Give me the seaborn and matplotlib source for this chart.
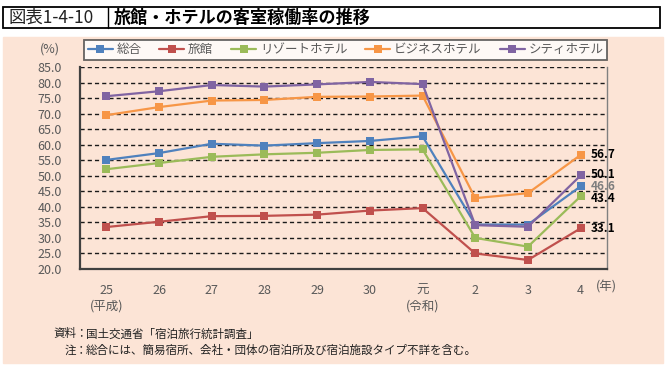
import matplotlib.pyplot as plt
import seaborn as sns
import pandas as pd
from matplotlib.patches import Rectangle
from matplotlib.lines import Line2D

years = ['25\n(平成)', '26', '27', '28', '29', '30', '元\n(令和)', '2', '3', '4']
series = ['総合', '旅館', 'リゾートホテル', 'ビジネスホテル', 'シティホテル']
total = [55.1, 57.3, 60.3, 59.7, 60.5, 61.2, 62.7, 34.3, 34.3, 46.6]
ryokan = [33.5, 35.2, 37.0, 37.1, 37.5, 38.8, 39.6, 25.0, 22.9, 33.1]
resort = [52.1, 54.1, 56.1, 56.9, 57.4, 58.3, 58.5, 30.0, 27.2, 43.4]
business = [69.5, 72.1, 74.2, 74.4, 75.4, 75.5, 75.8, 42.8, 44.4, 56.7]
city = [75.6, 77.2, 79.2, 78.7, 79.4, 80.2, 79.5, 34.1, 33.6, 50.1]
colors = ['#4F81BD', '#C0504D', '#9BBB59', '#F79646', '#8064A2']
notes = [('資料：', '国土交通省「宿泊旅行統計調査」'),
         ('注：', '総合には、簡易宿所、会社・団体の宿泊所及び宿泊施設タイプ不詳を含む。')]

W, H = 670, 366
peach = '#FCE4D6'


def main():
    rows = []
    for name, vals in zip(series, [total, ryokan, resort, business, city]):
        for i, v in enumerate(vals):
            rows.append({'pos': i, 'rate': v, 'type': name})
    df = pd.DataFrame(rows)

    sns.set_style('white')
    plt.rcParams['font.family'] = ['Noto Sans CJK JP', 'DejaVu Sans']

    fig = plt.figure(figsize=(W / 100, H / 100), dpi=100)
    fig.patch.set_facecolor('white')
    fig.add_artist(Rectangle((3 / W, 1 - 363 / H), 660 / W, 326 / H,
                             transform=fig.transFigure, color=peach, zorder=0))

    # title box
    fig.add_artist(Rectangle((3 / W, 1 - 28 / H), 657 / W, 21 / H, transform=fig.transFigure,
                             facecolor='white', edgecolor='black', lw=1.3, zorder=1))
    fig.add_artist(Line2D([108 / W, 108 / W], [1 - 28 / H, 1 - 7 / H], transform=fig.transFigure,
                          color='black', lw=1.0, zorder=2))
    fig.text(9 / W, 1 - 18 / H, '図表1-4-10', fontsize=12.5, va='center', ha='left', color='#222222')
    fig.text(114 / W, 1 - 18 / H, '旅館・ホテルの客室稼働率の推移', fontsize=12.3, fontweight='bold',
             va='center', ha='left', color='black')

    ax = fig.add_axes([80 / W, 1 - 269 / H, (607 - 80) / W, (269 - 67) / H])
    ax.set_facecolor('none')
    sns.lineplot(data=df, x='pos', y='rate', hue='type', style='type', hue_order=series,
                 style_order=series, palette=colors, markers=['s'] * 5, dashes=False,
                 markersize=6, markeredgewidth=0, linewidth=1.6, ax=ax)

    ax.set_xlim(-0.5, 9.5)
    ax.set_ylim(20, 85)
    ax.set_xticks(range(len(years)))
    ax.set_xticklabels(years, linespacing=1.2)
    yt = list(range(20, 90, 5))
    ax.set_yticks(yt)
    ax.set_yticklabels([f'{v:.1f}' for v in yt])
    ax.set_xlabel('')
    ax.set_ylabel('')
    ax.yaxis.grid(True, linestyle=(0, (3, 2.2)), color='#1a1a1a', linewidth=1.0)
    ax.xaxis.grid(False)
    ax.set_axisbelow(True)
    ax.tick_params(axis='x', direction='in', length=3, width=1, color='#404040', pad=11,
                   labelsize=9, labelcolor='#595959')
    ax.tick_params(axis='y', length=0, pad=13, labelsize=9, labelcolor='#595959')
    for s in ['left', 'bottom']:
        ax.spines[s].set_color('#404040')
        ax.spines[s].set_linewidth(1.6)
    ax.spines['right'].set_color('#808080')
    ax.spines['right'].set_linewidth(1.0)
    ax.spines['top'].set_visible(False)

    # end labels
    for vals, c, dy in zip([business, city, total, resort, ryokan],
                           ['black', 'black', '#7f7f7f', 'black', 'black'],
                           [0, 1, 0, -1.5, 0]):
        ax.annotate(f'{vals[-1]:.1f}', (9, vals[-1]), xytext=(7, dy), textcoords='offset points',
                    va='center', ha='left', fontsize=8.5, fontweight='bold', color=c)

    leg = ax.legend(loc='lower left', bbox_to_anchor=(84 / W, 1 - 60 / H, 523 / W, 20 / H),
                    bbox_transform=fig.transFigure, ncol=5, mode='expand', frameon=True,
                    fancybox=False, edgecolor='#404040', borderaxespad=0, borderpad=0.3,
                    handlelength=2.0, handletextpad=0.3, fontsize=9)
    leg.get_frame().set_linewidth(1.3)
    for t in leg.get_texts():
        t.set_color('#595959')

    fig.text(50 / W, 1 - 49 / H, '(%)', fontsize=9, ha='center', va='center', color='#595959')
    fig.text(606 / W, 1 - 287 / H, '(年)', fontsize=9, ha='center', va='center', color='#595959')

    for k, (head, body) in enumerate(notes):
        y = 1 - (334 + 16 * k) / H
        fig.text(88 / W, y, head, fontsize=8.3, ha='right', va='center', color='#222222')
        fig.text(86 / W, y, body, fontsize=8.3, ha='left', va='center', color='#222222')

    fig.savefig('out.png', dpi=100)


if __name__ == '__main__':
    main()
